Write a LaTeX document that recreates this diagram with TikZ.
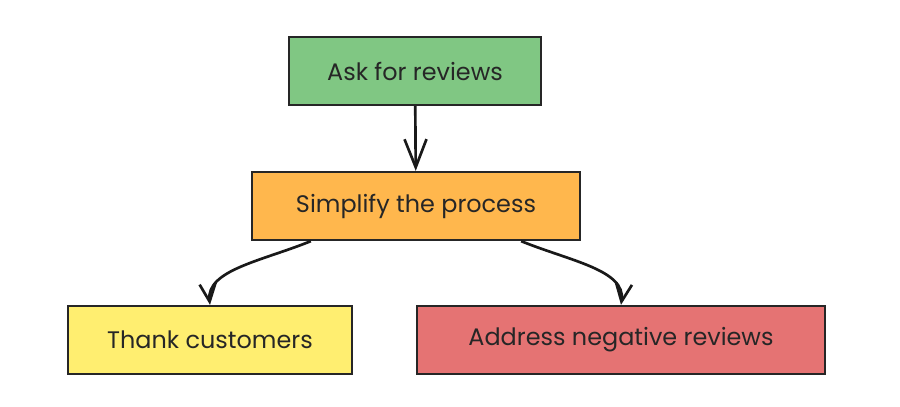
\documentclass[tikz,border=0pt]{standalone}
\usepackage{fontspec}
\setmainfont{Poppins}
\usetikzlibrary{arrows.meta,positioning}
\usepackage{xcolor}
\definecolor{askgreen}{HTML}{80C783}
\definecolor{simplifyorange}{HTML}{FFB74D}
\definecolor{thankyellow}{HTML}{FFEE70}
\definecolor{addressred}{HTML}{E57373}

\begin{document}
\begin{tikzpicture}[x=0.025cm, y=-0.025cm, >={Straight Barb[length=4.5mm, width=4mm]},
  every node/.style={rectangle, draw=black!85, line width=1.6pt, minimum height=1.7cm,
    font=\fontsize{17}{20}\selectfont, text=black!85}]
  \useasboundingbox (0,0) rectangle (900,407);
  \node (ask) [fill=askgreen, minimum width=6.3cm] at (415,71) {Ask for reviews};
  \node (simplify) [fill=simplifyorange, minimum width=8.2cm] at (416,206) {Simplify the process};
  \node (thank) [fill=thankyellow, minimum width=7.1cm] at (210,340) {Thank customers};
  \node (address) [fill=addressred, minimum width=10.2cm] at (621,340) {Address negative reviews};
  \draw[->, line width=1.9pt, black!90, >={Straight Barb[length=7mm, width=5.5mm]}] (ask) -- (simplify);
  \draw[->, line width=1.9pt, black!90] ([xshift=1.5cm]simplify.south west)
    .. controls (262,261) and (206,270) .. (thank.north);
  \draw[->, line width=1.9pt, black!90] ([xshift=-1.5cm]simplify.south east)
    .. controls (570,261) and (626,270) .. (address.north);
\end{tikzpicture}
\end{document}
